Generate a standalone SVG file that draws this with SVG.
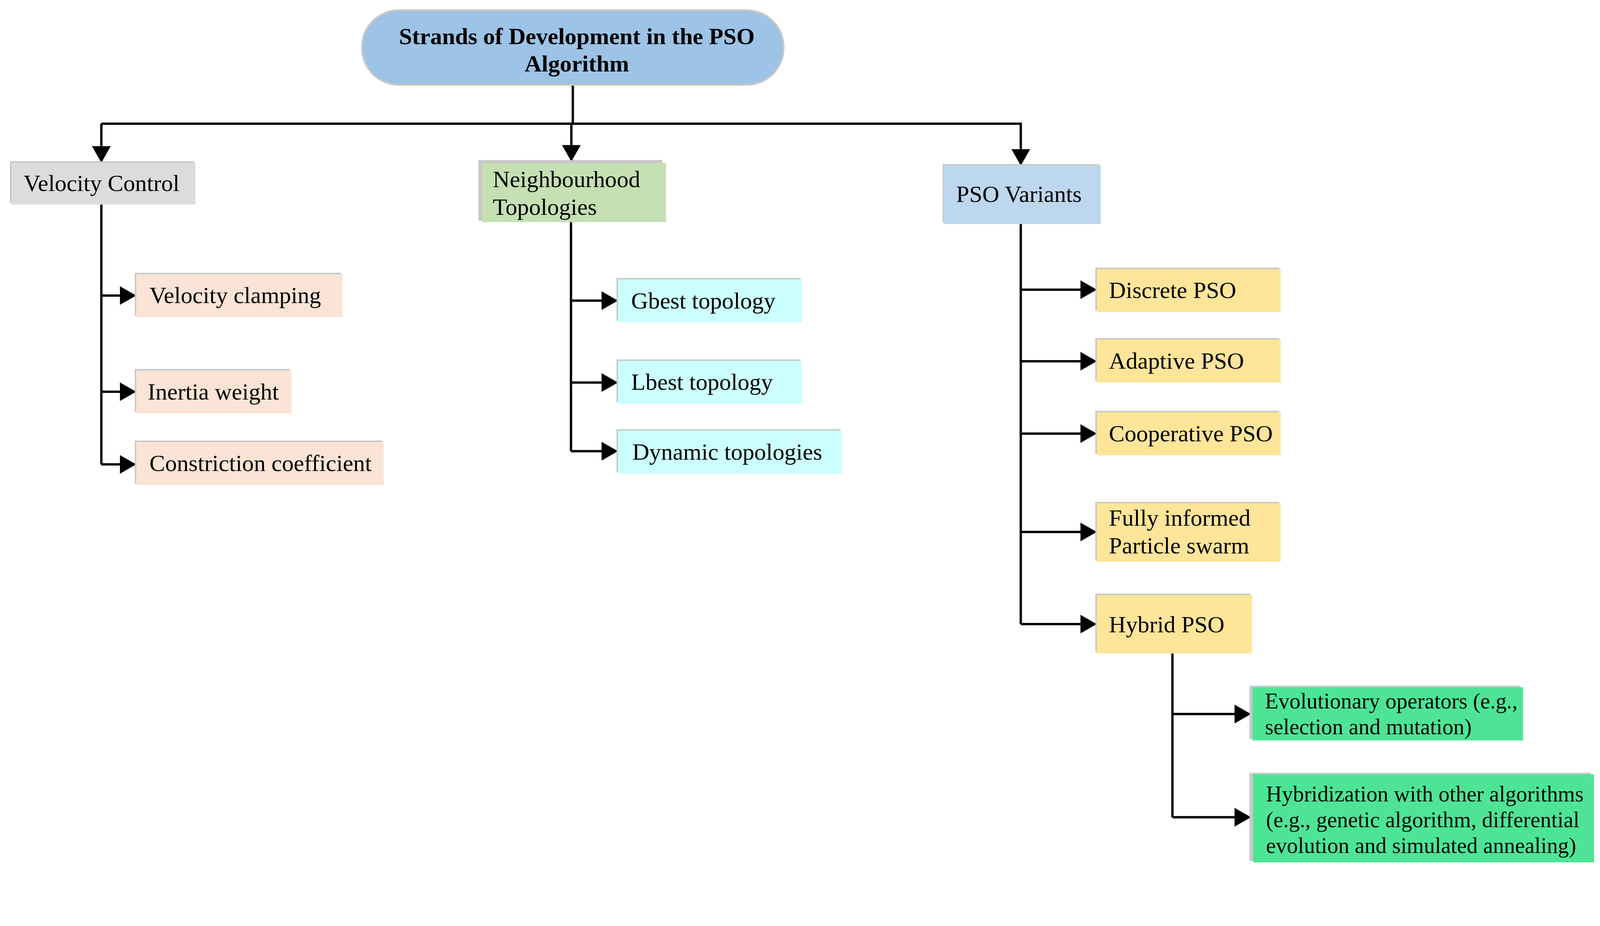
<svg xmlns="http://www.w3.org/2000/svg" width="4354" height="2371" viewBox="0 0 4354 2371">
<style>
text{font-family:"Liberation Serif","Times New Roman",serif;font-size:64px;fill:#000}
.b{font-weight:bold;text-anchor:middle}
.g{font-size:60px}
.sh{fill:#c8c8c8}
.c line,.c polyline{stroke:#000;stroke-width:6.4;fill:none}
</style>
<defs>
<marker id="a" markerWidth="8" markerHeight="8" refX="7" refY="4" orient="auto" markerUnits="strokeWidth">
<path d="M0,0 L7,4 L0,8 Z" fill="#000"/>
</marker>
</defs>
<rect width="4354" height="2371" fill="#fff"/>
<g transform="scale(0.94)">
<g class="c">
<polyline points="1560,231 1560,337"/>
<polyline points="276,337 2780,337 2780,451" marker-end="url(#a)"/>
<line x1="276" y1="337" x2="276" y2="443" marker-end="url(#a)"/>
<line x1="1556" y1="337" x2="1556" y2="440" marker-end="url(#a)"/>
<polyline points="276,557 276,1265"/>
<line x1="276" y1="805" x2="371" y2="805" marker-end="url(#a)"/>
<line x1="276" y1="1067" x2="371" y2="1067" marker-end="url(#a)"/>
<line x1="276" y1="1265" x2="371" y2="1265" marker-end="url(#a)"/>
<polyline points="1555,605 1555,1229"/>
<line x1="1555" y1="819" x2="1683" y2="819" marker-end="url(#a)"/>
<line x1="1555" y1="1042" x2="1683" y2="1042" marker-end="url(#a)"/>
<line x1="1555" y1="1229" x2="1683" y2="1229" marker-end="url(#a)"/>
<polyline points="2780,610 2780,1700"/>
<line x1="2780" y1="789" x2="2987" y2="789" marker-end="url(#a)"/>
<line x1="2780" y1="984" x2="2987" y2="984" marker-end="url(#a)"/>
<line x1="2780" y1="1181" x2="2987" y2="1181" marker-end="url(#a)"/>
<line x1="2780" y1="1449" x2="2987" y2="1449" marker-end="url(#a)"/>
<line x1="2780" y1="1700" x2="2987" y2="1700" marker-end="url(#a)"/>
<polyline points="3193,1780 3193,2226"/>
<line x1="3193" y1="1945" x2="3407" y2="1945" marker-end="url(#a)"/>
<line x1="3193" y1="2226" x2="3407" y2="2226" marker-end="url(#a)"/>
</g>
<g id="root">
<rect x="986" y="28" width="1148" height="203" rx="100" fill="#9dc3e6" stroke="#c8c8c8" stroke-width="5"/>
<text class="b" x="1571" y="120">Strands of Development in the PSO</text>
<text class="b" x="1571" y="195">Algorithm</text>
</g>
<g id="velocity-control"><rect class="sh" x="27" y="439" width="501" height="114"/><rect x="31" y="443" width="501" height="114" fill="#dcdcdc"/><text x="64" y="520">Velocity Control</text></g>
<g id="neighbourhood"><rect class="sh" x="1303" y="436" width="501" height="165"/><rect x="1313" y="444" width="501" height="161" fill="#c5e0b3"/><text x="1342" y="510">Neighbourhood</text><text x="1342" y="585">Topologies</text></g>
<g id="pso-variants"><rect class="sh" x="2567" y="447" width="427" height="159"/><rect x="2571" y="451" width="427" height="159" fill="#bdd7ee"/><text x="2604" y="550">PSO Variants</text></g>
<g id="velocity-clamping"><rect class="sh" x="367" y="743" width="562" height="117"/><rect x="371" y="747" width="562" height="117" fill="#fbe4d5"/><text x="407" y="826">Velocity clamping</text></g>
<g id="inertia-weight"><rect class="sh" x="367" y="1005" width="423" height="117"/><rect x="371" y="1009" width="423" height="117" fill="#fbe4d5"/><text x="402" y="1088">Inertia weight</text></g>
<g id="constriction"><rect class="sh" x="367" y="1200" width="674" height="117"/><rect x="371" y="1204" width="674" height="117" fill="#fbe4d5"/><text x="407" y="1283">Constriction coefficient</text></g>
<g id="gbest"><rect class="sh" x="1679" y="757" width="501" height="117"/><rect x="1683" y="761" width="501" height="117" fill="#ccffff"/><text x="1719" y="840">Gbest topology</text></g>
<g id="lbest"><rect class="sh" x="1679" y="979" width="501" height="117"/><rect x="1683" y="983" width="501" height="117" fill="#ccffff"/><text x="1719" y="1062">Lbest topology</text></g>
<g id="dynamic"><rect class="sh" x="1679" y="1169" width="610" height="117"/><rect x="1683" y="1173" width="610" height="117" fill="#ccffff"/><text x="1722" y="1252">Dynamic topologies</text></g>
<g id="discrete"><rect class="sh" x="2983" y="729" width="501" height="117"/><rect x="2987" y="733" width="501" height="117" fill="#ffe599"/><text x="3020" y="812">Discrete PSO</text></g>
<g id="adaptive"><rect class="sh" x="2983" y="921" width="501" height="117"/><rect x="2987" y="925" width="501" height="117" fill="#ffe599"/><text x="3020" y="1004">Adaptive PSO</text></g>
<g id="cooperative"><rect class="sh" x="2983" y="1119" width="501" height="117"/><rect x="2987" y="1123" width="501" height="117" fill="#ffe599"/><text x="3020" y="1202">Cooperative PSO</text></g>
<g id="fully-informed"><rect class="sh" x="2983" y="1367" width="501" height="159"/><rect x="2987" y="1371" width="501" height="159" fill="#ffe599"/><text x="3020" y="1432">Fully informed</text><text x="3020" y="1507">Particle swarm</text></g>
<g id="hybrid"><rect class="sh" x="2983" y="1617" width="423" height="159"/><rect x="2987" y="1621" width="423" height="159" fill="#ffe599"/><text x="3020" y="1722">Hybrid PSO</text></g>
<g id="evolutionary"><rect class="sh" x="3403" y="1868" width="737" height="145"/><rect x="3411" y="1872" width="737" height="145" fill="#4de595"/><text class="g" x="3445" y="1930">Evolutionary operators (e.g.,</text><text class="g" x="3445" y="2000">selection and mutation)</text></g>
<g id="hybridization"><rect class="sh" x="3403" y="2105" width="930" height="240"/><rect x="3413" y="2109" width="928" height="240" fill="#4de595"/><text class="g" x="3448" y="2183">Hybridization with other algorithms</text><text class="g" x="3448" y="2253">(e.g., genetic algorithm, differential</text><text class="g" x="3448" y="2323">evolution and simulated annealing)</text></g>
</g>
</svg>
